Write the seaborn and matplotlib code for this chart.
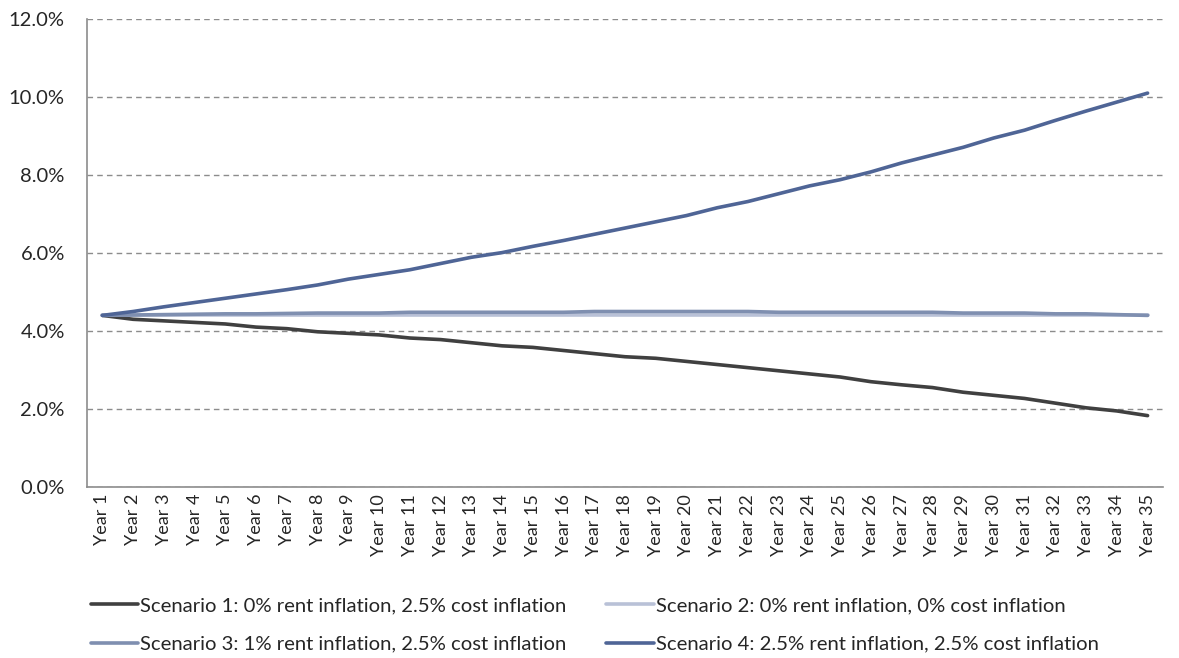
import matplotlib
matplotlib.use("Agg")
import matplotlib.pyplot as plt
import seaborn as sns
import pandas as pd
from matplotlib.ticker import FixedLocator, PercentFormatter

years = [f"Year {i}" for i in range(1, 36)]

scenario_names = [
    "Scenario 1: 0% rent inflation, 2.5% cost inflation",
    "Scenario 2: 0% rent inflation, 0% cost inflation",
    "Scenario 3: 1% rent inflation, 2.5% cost inflation",
    "Scenario 4: 2.5% rent inflation, 2.5% cost inflation",
]

s1 = [4.40, 4.30, 4.26, 4.22, 4.18, 4.10, 4.06, 3.98, 3.94, 3.90,
      3.82, 3.78, 3.70, 3.62, 3.58, 3.50, 3.42, 3.34, 3.30, 3.22,
      3.14, 3.06, 2.98, 2.90, 2.82, 2.70, 2.62, 2.55, 2.43, 2.35,
      2.27, 2.15, 2.03, 1.95, 1.83]
s2 = [4.40] * 35
s3 = [4.40, 4.41, 4.42, 4.43, 4.44, 4.44, 4.45, 4.46, 4.46, 4.46,
      4.48, 4.48, 4.48, 4.48, 4.48, 4.48, 4.50, 4.50, 4.50, 4.50,
      4.50, 4.50, 4.48, 4.48, 4.48, 4.48, 4.48, 4.48, 4.46, 4.46,
      4.46, 4.44, 4.44, 4.42, 4.40]
s4 = [4.40, 4.50, 4.62, 4.73, 4.84, 4.95, 5.06, 5.18, 5.33, 5.45,
      5.57, 5.73, 5.89, 6.01, 6.17, 6.32, 6.48, 6.64, 6.80, 6.96,
      7.16, 7.32, 7.52, 7.72, 7.88, 8.08, 8.31, 8.51, 8.71, 8.95,
      9.15, 9.40, 9.64, 9.87, 10.10]

colors = ["#404040", "#B9C1D7", "#7F8FB0", "#4F6596"]

frames = []
for name, vals in zip(scenario_names, [s1, s2, s3, s4]):
    frames.append(pd.DataFrame({"year": years, "value": vals, "scenario": name}))
df = pd.concat(frames, ignore_index=True)

sns.set_style("white")
plt.rcParams["font.family"] = ["Lato", "DejaVu Sans"]

fig = plt.figure(figsize=(11.79, 6.58), dpi=100)
ax = fig.add_axes([0.0738, 0.2599, 0.9126, 0.7112])

sns.lineplot(data=df, x="year", y="value", hue="scenario", hue_order=scenario_names,
             palette=colors, linewidth=2.6, ax=ax, legend=True, sort=False)
for ln in ax.lines:
    ln.set_solid_capstyle("round")

ax.set_xlim(-0.5, 34.5)
ax.set_ylim(0, 12)
ax.set_yticks([0, 2, 4, 6, 8, 10, 12])
ax.yaxis.set_major_formatter(PercentFormatter(decimals=1))
ax.yaxis.grid(True, linestyle=(0, (4, 3)), color="#8C8C8C", linewidth=1)
ax.set_axisbelow(True)

ax.set_xticks(range(len(years)))
ax.set_xticklabels(years, rotation=90)
ax.xaxis.set_minor_locator(FixedLocator([i - 0.5 for i in range(len(years) + 1)]))
ax.tick_params(axis="x", which="major", length=0, labelsize=13, pad=5)
ax.tick_params(axis="x", which="minor", length=6, color="#8C8C8C", width=1)
ax.tick_params(axis="y", which="major", length=6, color="#8C8C8C", width=1,
               labelsize=14.5, pad=10)
ax.set_xlabel("")
ax.set_ylabel("")

for side in ["top", "right"]:
    ax.spines[side].set_visible(False)
for side in ["left", "bottom"]:
    ax.spines[side].set_color("#8C8C8C")
    ax.spines[side].set_linewidth(1.2)

handles, labels = ax.get_legend_handles_labels()
ax.get_legend().remove()
order = [0, 2, 1, 3]
fig.legend([handles[i] for i in order], [labels[i] for i in order], ncol=2,
           frameon=False, loc="upper left", bbox_to_anchor=(0.07, 0.105),
           fontsize=14.6, handlelength=2.35, handletextpad=0.1, columnspacing=1.95,
           labelspacing=1.05, borderaxespad=0)

fig.savefig("out.png", dpi=100)
